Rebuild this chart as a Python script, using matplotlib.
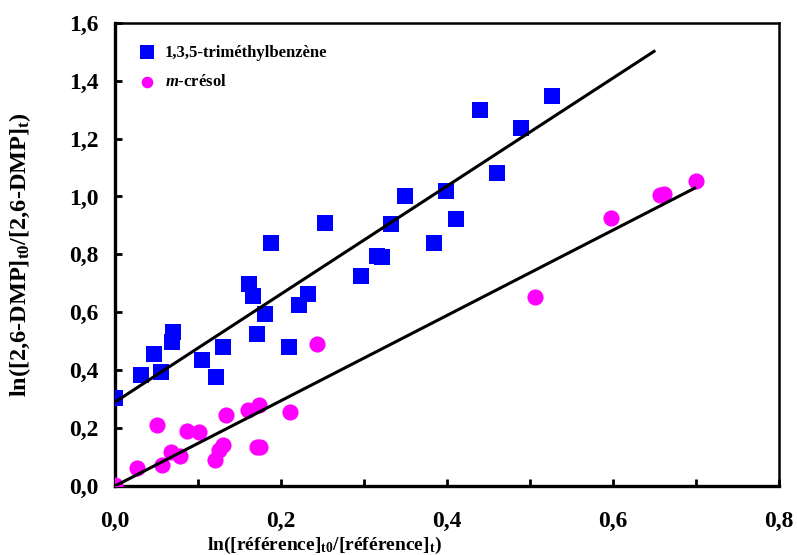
import matplotlib
matplotlib.use("Agg")
import matplotlib.pyplot as plt
import numpy as np
from matplotlib.ticker import MultipleLocator, FuncFormatter

plt.rcParams['font.family'] = ['Liberation Serif', 'DejaVu Serif']
plt.rcParams['font.weight'] = 'bold'
plt.rcParams['mathtext.fontset'] = 'custom'
plt.rcParams['mathtext.rm'] = 'Liberation Serif:bold'
plt.rcParams['mathtext.bf'] = 'Liberation Serif:bold'
plt.rcParams['mathtext.it'] = 'Liberation Serif:bold:italic'

# 1,3,5-trimethylbenzene
tmb_x = [0.0, 0.031, 0.047, 0.055, 0.069, 0.070, 0.105, 0.122, 0.130, 0.162,
         0.166, 0.171, 0.181, 0.188, 0.210, 0.222, 0.233, 0.253, 0.296, 0.316,
         0.322, 0.333, 0.349, 0.384, 0.399, 0.411, 0.440, 0.460, 0.489, 0.527]
tmb_y = [0.303, 0.383, 0.457, 0.393, 0.496, 0.532, 0.434, 0.376, 0.480, 0.696,
         0.655, 0.524, 0.593, 0.838, 0.479, 0.624, 0.662, 0.910, 0.726, 0.793,
         0.790, 0.905, 1.003, 0.840, 1.020, 0.921, 1.297, 1.081, 1.236, 1.348]

# m-cresol
cre_x = [0.0, 0.027, 0.050, 0.057, 0.068, 0.078, 0.087, 0.101, 0.120, 0.125,
         0.130, 0.134, 0.160, 0.171, 0.174, 0.175, 0.211, 0.243, 0.506, 0.597,
         0.657, 0.662, 0.700]
cre_y = [0.003, 0.062, 0.210, 0.072, 0.117, 0.103, 0.190, 0.185, 0.090, 0.124,
         0.140, 0.244, 0.262, 0.134, 0.279, 0.135, 0.255, 0.490, 0.652, 0.924,
         1.005, 1.008, 1.052]

# fitted lines: slope, intercept, x range
tmb_fit = (1.865, 0.29, 0.0, 0.651)
cre_fit = (1.473, 0.0, 0.0, 0.700)

fig = plt.figure(figsize=(7.97, 5.55), dpi=100)
ax = fig.add_axes([0.1443, 0.1243, 0.8331, 0.8347])

ax.scatter(tmb_x, tmb_y, marker='s', s=125, color='#0000ff', zorder=3,
           linewidths=0, label='1,3,5-triméthylbenzène')
ax.scatter(cre_x, cre_y, marker='o', s=135, color='#ff00ff', zorder=3,
           linewidths=0, label='$\\mathit{m}$-crésol')

for slope, icpt, x0, x1 in (tmb_fit, cre_fit):
    xs = np.array([x0, x1])
    ax.plot(xs, slope * xs + icpt, color='black', lw=2.2, zorder=4,
            solid_capstyle='butt')

ax.set_xlim(0, 0.8)
ax.set_ylim(0, 1.6)
ax.xaxis.set_major_locator(MultipleLocator(0.2))
ax.xaxis.set_minor_locator(MultipleLocator(0.1))
ax.yaxis.set_major_locator(MultipleLocator(0.2))
comma = FuncFormatter(lambda v, p: ('%.1f' % v).replace('.', ','))
ax.xaxis.set_major_formatter(comma)
ax.yaxis.set_major_formatter(comma)

ax.tick_params(axis='both', which='both', direction='in', length=5, width=2,
               labelsize=17, top=False, right=False)
ax.tick_params(axis='x', which='major', pad=18)
ax.tick_params(axis='y', which='major', pad=12)
for lab in ax.get_xticklabels() + ax.get_yticklabels():
    lab.set_fontweight('bold')

for side in ('left', 'bottom'):
    ax.spines[side].set_linewidth(2.4)
for side in ('top', 'right'):
    ax.spines[side].set_linewidth(1.8)

ax.set_xlabel('ln([référence]$_{\\mathrm{t0}}$/[référence]$_{\\mathrm{t}}$)',
              fontsize=14, fontweight='bold')
ax.xaxis.set_label_coords(0.316, -0.105)
ax.set_ylabel('ln([2,6-DMP]$_{\\mathrm{t0}}$/[2,6-DMP]$_{\\mathrm{t}}$)',
              fontsize=17.5, fontweight='bold')
ax.yaxis.set_label_coords(-0.124, 0.5)

leg = ax.legend(loc='upper left', bbox_to_anchor=(0.0, 0.985), frameon=False,
                prop={'size': 12, 'weight': 'bold'}, handletextpad=0.1,
                labelspacing=0.8, borderaxespad=0.5, scatterpoints=1)
leg.legend_handles[0].set_sizes([110])
leg.legend_handles[1].set_sizes([70])

fig.savefig('out.png', dpi=100)
